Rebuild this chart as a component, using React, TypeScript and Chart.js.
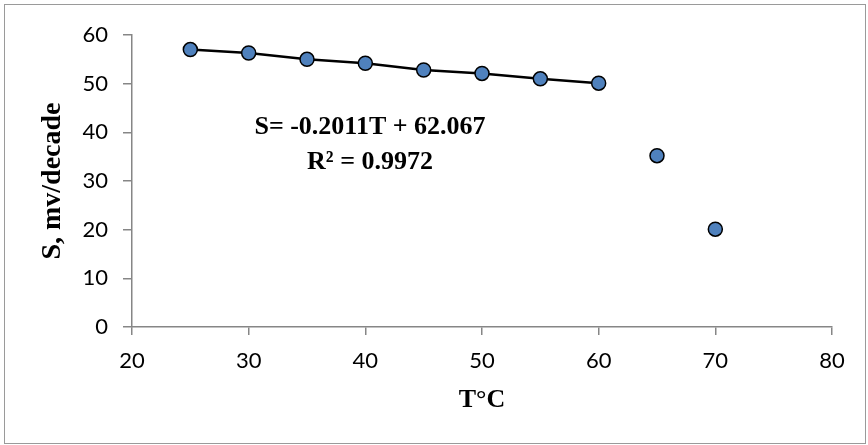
import React, { useEffect, useRef } from "react";
import { Chart, registerables } from "chart.js";

Chart.register(...registerables);

// Fitted (linear) region
const tempsFit = [25, 30, 35, 40, 45, 50, 55, 60];
const slopesFit = [57.0, 56.3, 55.0, 54.2, 52.8, 52.1, 51.0, 50.1];
// Points beyond the linear region
const tempsOut = [65, 70];
const slopesOut = [35.2, 20.1];

const xTitle = "T°C";
const yTitle = "S, mv/decade";
const eqLine1 = "S= -0.2011T + 62.067";
const eqLine2 = "R² = 0.9972";

const AXIS_GRAY = "#868686";
const MARKER_FILL = "#4F81BD";

const extrasPlugin = {
  id: "extras",
  afterDraw(chart: any) {
    const { ctx } = chart;
    const xs = chart.scales.x;
    const ys = chart.scales.y;
    ctx.save();
    // outer chart border
    ctx.strokeStyle = "#9a9a9a";
    ctx.lineWidth = 1;
    ctx.strokeRect(4.5, 4.5, chart.width - 7, chart.height - 6);
    // equation text
    ctx.fillStyle = "#000";
    ctx.font = "bold 26px 'Liberation Serif', serif";
    ctx.textAlign = "center";
    ctx.textBaseline = "middle";
    const cx = xs.getPixelForValue(40.4);
    ctx.fillText(eqLine1, cx, ys.getPixelForValue(41.1));
    ctx.fillText(eqLine2, cx, ys.getPixelForValue(33.9));
    ctx.restore();
  },
};

export default function App() {
  const ref = useRef<HTMLCanvasElement | null>(null);

  useEffect(() => {
    if (!ref.current) return;
    const chart = new Chart(ref.current, {
      type: "scatter",
      data: {
        datasets: [
          {
            label: "fit",
            data: tempsFit.map((t, i) => ({ x: t, y: slopesFit[i] })),
            showLine: true,
            borderColor: "#000",
            borderWidth: 2.5,
            pointBackgroundColor: MARKER_FILL,
            pointBorderColor: "#000",
            pointBorderWidth: 1.5,
            pointRadius: 7,
          },
          {
            label: "out",
            data: tempsOut.map((t, i) => ({ x: t, y: slopesOut[i] })),
            showLine: false,
            pointBackgroundColor: MARKER_FILL,
            pointBorderColor: "#000",
            pointBorderWidth: 1.5,
            pointRadius: 7,
          },
        ],
      },
      options: {
        animation: false,
        responsive: false,
        devicePixelRatio: 1,
        layout: { padding: { top: 35, right: 36, left: 0, bottom: 0 } },
        plugins: {
          legend: { display: false },
          tooltip: { enabled: false },
        },
        scales: {
          x: {
            type: "linear",
            min: 20,
            max: 80,
            ticks: {
              stepSize: 10,
              padding: 13,
              color: "#000",
              font: { family: "Lato", size: 22 },
            },
            grid: {
              drawOnChartArea: false,
              drawTicks: true,
              tickLength: 8,
              color: AXIS_GRAY,
              lineWidth: 1.5,
            },
            border: { display: true, color: AXIS_GRAY, width: 1.5 },
            title: {
              display: true,
              text: xTitle,
              color: "#000",
              font: { family: "'Liberation Serif'", size: 26, weight: "bold" },
              padding: { top: 0, bottom: 29 },
            },
            afterFit(scale: any) {
              scale.height = 118;
            },
          },
          y: {
            type: "linear",
            min: 0,
            max: 60,
            ticks: {
              stepSize: 10,
              padding: 15,
              color: "#000",
              font: { family: "Lato", size: 22 },
            },
            grid: {
              drawOnChartArea: false,
              drawTicks: true,
              tickLength: 9,
              color: AXIS_GRAY,
              lineWidth: 1.5,
            },
            border: { display: true, color: AXIS_GRAY, width: 1.5 },
            title: {
              display: true,
              text: yTitle,
              color: "#000",
              font: { family: "'Liberation Serif'", size: 28, weight: "bold" },
              padding: { top: 36, bottom: 0 },
            },
            afterFit(scale: any) {
              scale.width = 132;
            },
          },
        },
      },
      plugins: [extrasPlugin],
    });
    return () => chart.destroy();
  }, []);

  return (
    <div style={{ position: "fixed", left: 0, top: 0, width: 868, height: 445, background: "#fff" }}>
      <canvas ref={ref} width={868} height={445} />
    </div>
  );
}
